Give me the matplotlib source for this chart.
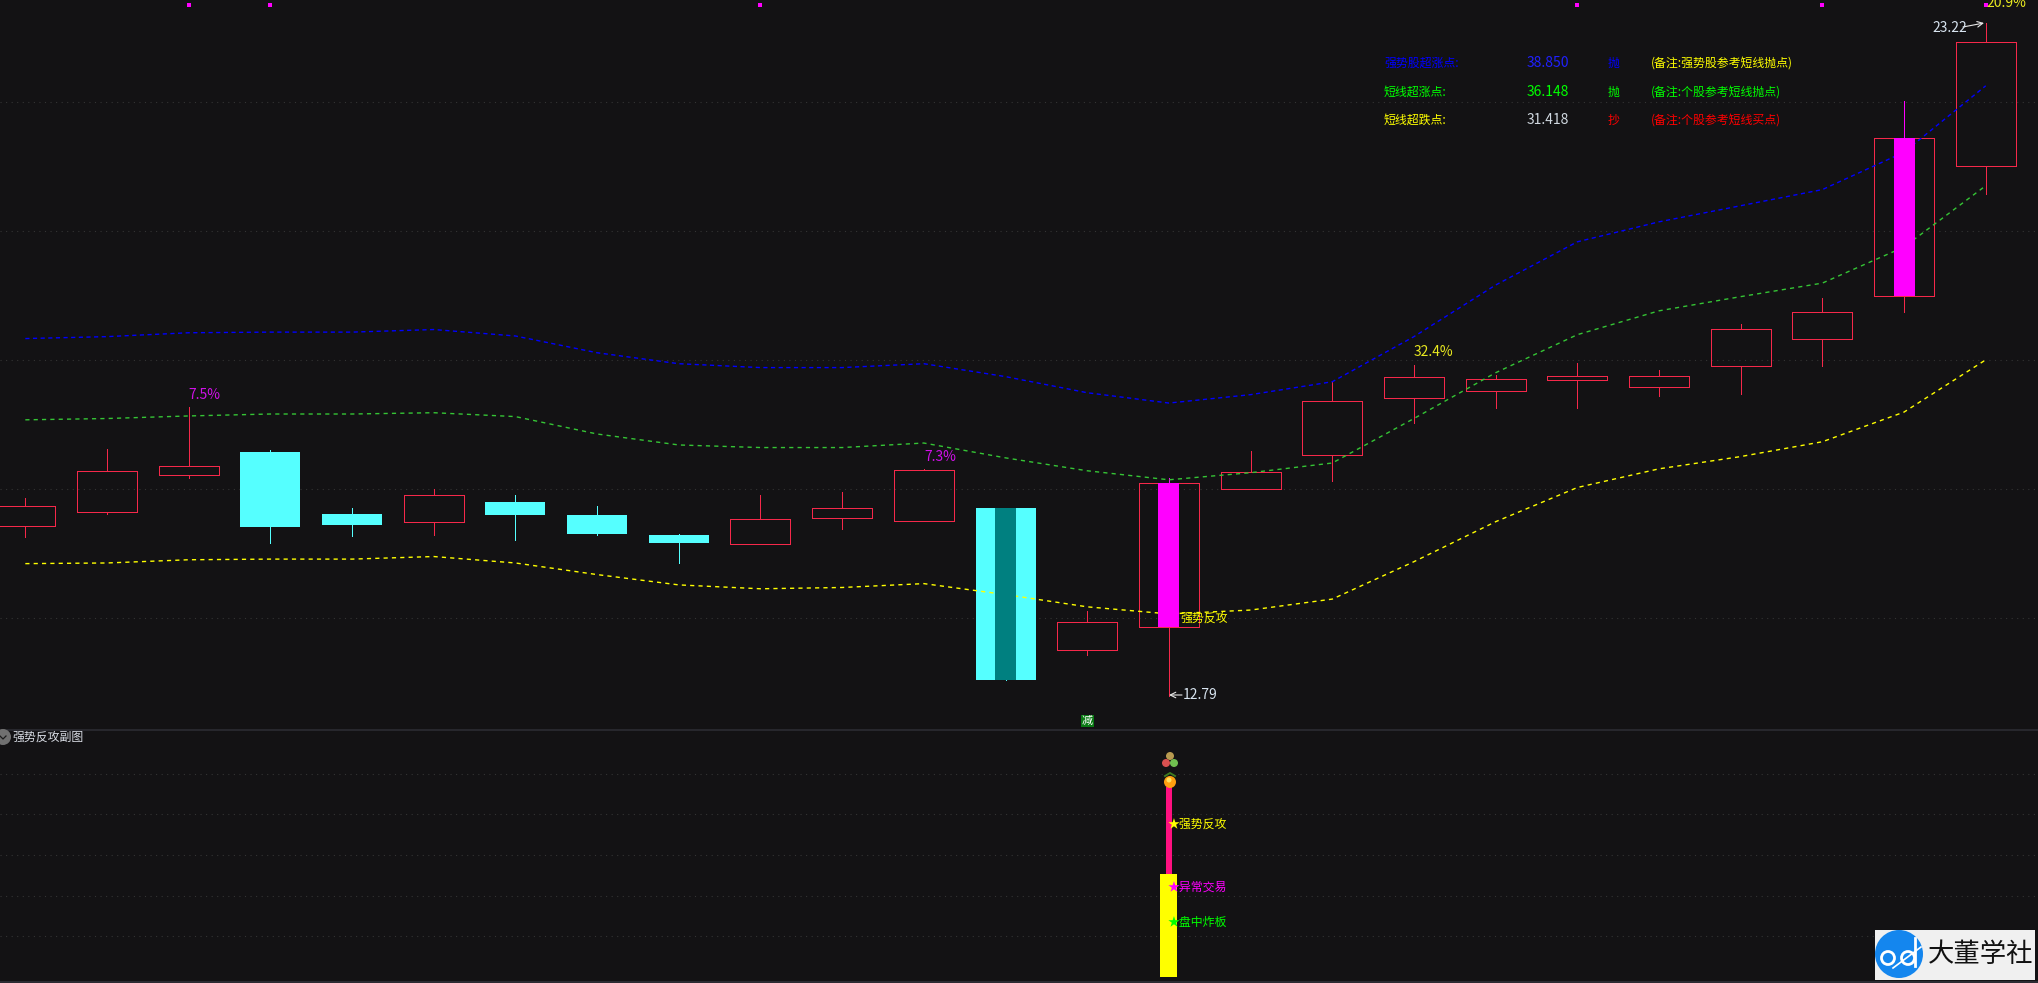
import matplotlib
matplotlib.use('Agg')
import numpy as np
import matplotlib.pyplot as plt
from matplotlib.patches import Rectangle, Circle

plt.rcParams['font.family'] = ['Noto Sans CJK SC', 'DejaVu Sans']

## the data
opens = [15.43, 15.64, 16.22, 16.57, 15.61, 15.49, 15.80, 15.60, 15.29, 15.15, 15.55, 15.50, 15.71,
         13.50, 13.86, 16.00, 16.53, 17.41, 17.52, 17.69, 17.58, 17.91, 18.33, 18.99, 21.01]
closes = [15.74, 16.28, 16.36, 15.41, 15.44, 15.91, 15.60, 15.30, 15.16, 15.53, 15.71, 16.29, 13.04,
          13.94, 16.09, 16.26, 17.36, 17.74, 17.71, 17.75, 17.75, 18.48, 18.74, 21.44, 22.93]
highs = [15.86, 16.62, 17.27, 16.60, 15.71, 16.00, 15.91, 15.74, 15.30, 15.91, 15.95, 16.31, 15.71,
         14.11, 16.17, 16.59, 17.66, 17.92, 17.77, 17.95, 17.84, 18.56, 18.96, 22.02, 23.22]
lows = [15.26, 15.61, 16.17, 15.16, 15.27, 15.29, 15.21, 15.29, 14.85, 15.15, 15.38, 15.50, 13.04,
        13.43, 12.79, 16.00, 16.12, 17.02, 17.26, 17.26, 17.44, 17.47, 17.91, 18.74, 20.57]
# the three band lines
upper = [18.33, 18.36, 18.42, 18.43, 18.43, 18.47, 18.37, 18.11, 17.94, 17.88, 17.88, 17.94, 17.74,
         17.49, 17.33, 17.46, 17.66, 18.36, 19.16, 19.83, 20.14, 20.39, 20.64, 21.22, 22.25]
middle = [17.07, 17.09, 17.13, 17.16, 17.16, 17.18, 17.12, 16.85, 16.68, 16.64, 16.64, 16.71, 16.48,
          16.28, 16.14, 16.25, 16.40, 17.09, 17.80, 18.39, 18.76, 18.98, 19.19, 19.75, 20.70]
lower = [14.84, 14.85, 14.90, 14.91, 14.91, 14.95, 14.85, 14.67, 14.51, 14.45, 14.47, 14.53, 14.36,
         14.17, 14.06, 14.12, 14.29, 14.87, 15.49, 16.02, 16.31, 16.50, 16.73, 17.19, 18.00]
main_grid = [14, 16, 18, 20, 22]
sub_grid = [10, 20, 30, 40, 50]
signal_idx = [14, 23]      # magenta centre
weak_idx = [12]            # teal centre
top_marks = [2, 3, 9, 19, 22, 24]
sub_x = 14
sub_pink = 46.7
sub_yellow = 25.3
rows = [('强势股超涨点:', '38.850', '抛', '(备注:强势股参考短线抛点)'),
        ('短线超涨点:', '36.148', '抛', '(备注:个股参考短线抛点)'),
        ('短线超跌点:', '31.418', '抄', '(备注:个股参考短线买点)')]

BG = '#131214'
RED = '#f5284a'
CYAN = '#55ffff'
GRID = dict(color='#343434', lw=0.8, ls=(0, (1, 4)), zorder=1)

W, H = 2038, 983
fig = plt.figure(figsize=(W / 100, H / 100), dpi=100, facecolor=BG)

# px box -> figure fraction
def box(top, bottom):
    return [0, 1 - bottom / H, 1, (bottom - top) / H]

ax = fig.add_axes(box(0, 730))
ax.set_axis_off()
ax.set_xlim(-0.31, 24.64)
ax.set_ylim(12.26, 23.58)

sub = fig.add_axes(box(730, 981))
sub.set_axis_off()
sub.set_xlim(-0.31, 24.64)
sub.set_ylim(-1, 60.7)

## main panel
for g in main_grid:
    ax.axhline(g, **GRID)

body_w = 0.735
core_w = 0.257
wick_lw = 0.72
ind = np.arange(len(opens))
for i in ind:
    top = max(opens[i], closes[i])
    bot = min(opens[i], closes[i])
    if closes[i] >= opens[i]:
        wick_top = '#ff00ff' if i in signal_idx else RED
        ax.vlines(i, top, highs[i], color=wick_top, lw=wick_lw, zorder=2, antialiased=False)
        ax.vlines(i, lows[i], bot, color=RED, lw=wick_lw, zorder=2, antialiased=False)
        ax.add_patch(Rectangle((i - body_w / 2, bot), body_w, top - bot, fill=False,
                               ec=RED, lw=wick_lw, zorder=3, antialiased=False))
    else:
        ax.vlines(i, lows[i], highs[i], color=CYAN, lw=wick_lw, zorder=2, antialiased=False)
        ax.add_patch(Rectangle((i - body_w / 2, bot), body_w, top - bot,
                               fc=CYAN, ec='none', zorder=3))

ax.plot(ind, upper, color='#0000ff', lw=1.0, ls=(0, (3, 2.5)), zorder=4)
ax.plot(ind, middle, color='#35c435', lw=1.0, ls=(0, (3, 3)), zorder=4)
ax.plot(ind, lower, color='#ffff00', lw=1.0, ls=(0, (3, 3)), zorder=4)

# centre bars sit over the lines
for i in signal_idx:
    ax.add_patch(Rectangle((i - core_w / 2, opens[i]), core_w, closes[i] - opens[i],
                           fc='#ff00ff', ec='none', zorder=5))
for i in weak_idx:
    ax.add_patch(Rectangle((i - core_w / 2, closes[i]), core_w, opens[i] - closes[i],
                           fc='#008080', ec='none', zorder=5))

ax.scatter(top_marks, [23.5] * len(top_marks), marker='s', s=7, color='#ff00ff', lw=0, zorder=6)

## sub panel
for g in sub_grid:
    sub.axhline(g, **GRID)
sub.bar(sub_x, sub_pink, 0.065, color='#ff1080', zorder=2)
sub.bar(sub_x, sub_yellow, 0.21, color='#ffff00', zorder=3)

## everything else is placed in screen pixels
ov = fig.add_axes([0, 0, 1, 1], facecolor='none')
ov.set_axis_off()
ov.set_xlim(0, W)
ov.set_ylim(H, 0)

FS = 8.6
NUM = 10

def label(x, y, s, color, size=FS, **kw):
    ov.text(x, y, s, color=color, fontsize=size, va='center', ha='left', zorder=10, **kw)

ov.plot([0, W], [729.5, 729.5], color='#2c2c33', lw=1.2)
ov.plot([0, W], [981.5, 981.5], color='#2c2c33', lw=1.4)

# info table
row_y = [63, 92, 120]
row_colors = [('#0000ff', '#2020ff', '#0000ff', '#ffff00'),
              ('#00ff00', '#00ff00', '#00ff00', '#00ff00'),
              ('#ffff00', '#d0d8e0', '#ff0000', '#ff0000')]
for y, row, cols in zip(row_y, rows, row_colors):
    for x, s, c, size in zip([1384, 1527, 1608, 1651], row, cols, [FS, NUM, FS, FS]):
        label(x, y, s, c, size)

label(188, 395, '7.5%', '#d010e8', NUM)
label(924, 457, '7.3%', '#d010e8', NUM)
label(1414, 352, '32.4%', '#e8e820', NUM)
label(1986, 3, '20.9%', '#e8e820', NUM)
label(1180, 618, '强势反攻', '#ffff00')

label(1932, 28, '23.22', '#d8e4f0', NUM)
ov.annotate('', xy=(1984, 23), xytext=(1963, 27),
            arrowprops=dict(arrowstyle='->', color='#e8e8e8', lw=0.8, shrinkA=0, shrinkB=0))
label(1183, 695, '12.79', '#d8e4f0', NUM)
ov.annotate('', xy=(1169, 695), xytext=(1182, 695),
            arrowprops=dict(arrowstyle='->', color='#e8e8e8', lw=0.8, shrinkA=0, shrinkB=0))

ov.text(1087.5, 721, '减', color='white', fontsize=8, ha='center', va='center', zorder=10,
        bbox=dict(boxstyle='square,pad=0.1', fc='#0a7a14', ec='none'))

# sub panel title
ov.add_patch(Circle((3, 737), 8, fc='#707070', ec='none', zorder=9))
ov.plot([0, 3, 6], [736, 739, 736], color='#1c1c1c', lw=0.9, zorder=10)
label(12, 737, '强势反攻副图', '#d8dce4')

# star labels
label(1168, 824, '★强势反攻', '#ffff00')
label(1168, 887, '★异常交易', '#ff00ff')
label(1168, 922, '★盘中炸板', '#00ff00')

# icons above the pink bar
ov.add_patch(Circle((1170, 756), 4, fc='#b89a50', ec='none', zorder=9))
ov.add_patch(Circle((1166, 763), 4, fc='#d85050', ec='none', zorder=9))
ov.add_patch(Circle((1174, 763), 4, fc='#70c050', ec='none', zorder=9))
ov.add_patch(Circle((1170, 782), 6, fc='#ffa010', ec='none', zorder=9))
ov.add_patch(Circle((1169, 780), 2.5, fc='#ffe060', ec='none', zorder=10))
ov.plot([1165, 1170, 1175], [776, 773, 776], color='#3c7a20', lw=1.4, zorder=10)

# logo
ov.add_patch(Rectangle((1875, 930), 160, 50, fc='#f0f0f0', ec='none', zorder=9))
ov.add_patch(Circle((1899, 954), 24, fc='#1486ee', ec='none', zorder=10))
ov.add_patch(Circle((1888, 958), 6.5, fc='none', ec='white', lw=2, zorder=11))
ov.add_patch(Circle((1908, 958), 6.5, fc='none', ec='white', lw=2, zorder=11))
ov.plot([1915, 1915], [938, 966], color='white', lw=2, zorder=11)
ov.plot([1893, 1921], [968, 947], color='white', lw=1.2, zorder=11)
ov.text(1981, 955, '大董学社', color='#111111', fontsize=19, ha='center', va='center',
        fontweight='medium', zorder=11)

fig.savefig('out.png', dpi=100, facecolor=BG)
